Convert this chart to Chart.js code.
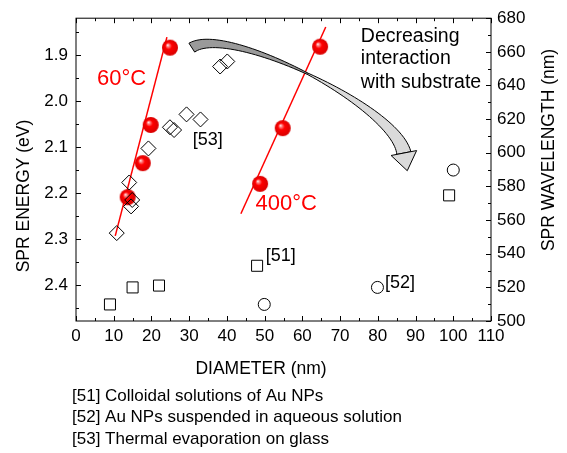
<!DOCTYPE html>
<html>
<head>
<meta charset="utf-8">
<script src="https://cdn.jsdelivr.net/npm/chart.js@4.4.0/dist/chart.umd.min.js"></script>
<style>
  html, body { margin: 0; padding: 0; background: #fff; }
  #wrap { width: 567px; height: 453px; }
</style>
</head>
<body>
<div id="wrap"><canvas id="sprChart" width="567" height="453"></canvas></div>
<script>
// ---- data ----
const sph60X = [13.7, 17.7, 19.8, 24.9];
const sph60Y = [2.209, 2.135, 2.052, 1.884];
const sph400X = [48.8, 54.8, 64.7];
const sph400Y = [2.180, 2.059, 1.882];
const fit60X = [10.4, 24.1];
const fit60Y = [2.293, 1.861];
const fit400X = [43.7, 66.2];
const fit400Y = [2.245, 1.839];
const ref53X = [10.8, 14.1, 14.6, 14.9, 19.2, 24.9, 26.0, 29.3, 33.0, 38.2, 40.1];
const ref53Y = [2.287, 2.177, 2.229, 2.215, 2.103, 2.057, 2.063, 2.029, 2.040, 1.925, 1.914];
const ref51X = [9.0, 15.0, 22.0, 48.0, 98.9];
const ref51Y = [2.442, 2.405, 2.401, 2.358, 2.205];
const ref52X = [49.9, 79.9, 100.0];
const ref52Y = [2.442, 2.405, 2.150];

// ---- axis ticks ----
const xTicks = [0, 10, 20, 30, 40, 50, 60, 70, 80, 90, 100, 110];
const xMinor = [5, 15, 25, 35, 45, 55, 65, 75, 85, 95, 105];
const eTicks = [1.9, 2.0, 2.1, 2.2, 2.3, 2.4];
const eMinor = [1.85, 1.95, 2.05, 2.15, 2.25, 2.35, 2.45];
const wlTicks = [500, 520, 540, 560, 580, 600, 620, 640, 660, 680];
const wlMinor = [510, 530, 550, 570, 590, 610, 630, 650, 670];

const footnotes = [
    '[51] Colloidal solutions of Au NPs',
    '[52] Au NPs suspended in aqueous solution',
    '[53] Thermal evaporation on glass'
];

const FONT = "'Liberation Sans', Arial, sans-serif";
Chart.defaults.font.family = FONT;
Chart.defaults.font.size = 17;
Chart.defaults.color = '#000';

const pts = (xs, ys) => xs.map((x, i) => ({ x: x, y: ys[i] }));

// shaded red ball used as point style
function makeSphere(r) {
    const c = document.createElement('canvas');
    const s = 2 * r + 2;
    c.width = s; c.height = s;
    const g = c.getContext('2d');
    const cx = s / 2, cy = s / 2;
    const grad = g.createRadialGradient(cx - r * 0.3, cy - r * 0.35, 0, cx, cy, r);
    grad.addColorStop(0, '#ffffff');
    grad.addColorStop(0.18, '#ff8080');
    grad.addColorStop(0.42, '#ff0000');
    grad.addColorStop(1, '#d80000');
    g.fillStyle = grad;
    g.beginPath();
    g.arc(cx, cy, r, 0, Math.PI * 2);
    g.fill();
    return c;
}
const sphere = makeSphere(8);

/* ======= ticks, frame, arrow and labels ======= */
const decor = {
    id: 'decor',
    afterDatasetsDraw(chart) {
        const { ctx, scales: { x, y } } = chart;
        // curved "decreasing interaction" arrow, control points in data units
        const P = [[30.7, 1.884], [40.3, 1.833], [84.5, 2.011], [86.9, 2.113]]
            .map(p => ({ x: x.getPixelForValue(p[0]), y: y.getPixelForValue(p[1]) }));
        const B = t => {
            const u = 1 - t;
            return {
                x: u*u*u*P[0].x + 3*u*u*t*P[1].x + 3*u*t*t*P[2].x + t*t*t*P[3].x,
                y: u*u*u*P[0].y + 3*u*u*t*P[1].y + 3*u*t*t*P[2].y + t*t*t*P[3].y
            };
        };
        const D = t => {
            const u = 1 - t;
            return {
                x: 3*u*u*(P[1].x-P[0].x) + 6*u*t*(P[2].x-P[1].x) + 3*t*t*(P[3].x-P[2].x),
                y: 3*u*u*(P[1].y-P[0].y) + 6*u*t*(P[2].y-P[1].y) + 3*t*t*(P[3].y-P[2].y)
            };
        };
        const half = t => t < 0.5 ? 0.7 + 4.6 * (0.5 - t) / 0.5 : 0.7 + 6.5 * (t - 0.5) / 0.5;
        const edge = (t0, t1, sign) => {
            const out = [];
            for (let i = 0; i <= 30; i++) {
                const t = t0 + (t1 - t0) * i / 30;
                const b = B(t), d = D(t);
                const l = Math.hypot(d.x, d.y);
                const w = half(t) * sign;
                out.push({ x: b.x - d.y / l * w, y: b.y + d.x / l * w });
            }
            return out;
        };
        const band = (t0, t1, fill) => {
            const a = edge(t0, t1, 1), b = edge(t0, t1, -1).reverse();
            ctx.beginPath();
            a.concat(b).forEach((p, i) => i ? ctx.lineTo(p.x, p.y) : ctx.moveTo(p.x, p.y));
            ctx.closePath();
            ctx.fillStyle = fill;
            ctx.fill();
            ctx.stroke();
        };
        ctx.save();
        ctx.strokeStyle = '#000';
        ctx.lineWidth = 1;
        band(0, 0.5, '#9a9a9a');
        band(0.5, 1, '#dadada');
        const e = B(1), d = D(1), l = Math.hypot(d.x, d.y);
        const ux = d.x / l, uy = d.y / l;
        ctx.beginPath();
        ctx.moveTo(e.x - uy * 13, e.y + ux * 13);
        ctx.lineTo(e.x + ux * 18, e.y + uy * 18);
        ctx.lineTo(e.x + uy * 13, e.y - ux * 13);
        ctx.closePath();
        ctx.fillStyle = '#dadada';
        ctx.fill();
        ctx.stroke();
        ctx.restore();
    },
    afterDraw(chart) {
        const { ctx, chartArea: a, scales: { x, y, y1 } } = chart;
        ctx.save();
        ctx.strokeStyle = '#000';
        ctx.lineWidth = 1;
        ctx.strokeRect(a.left, a.top, a.right - a.left, a.bottom - a.top);
        ctx.beginPath();
        const xt = (v, len) => {
            const p = Math.round(x.getPixelForValue(v)) + 0.5;
            ctx.moveTo(p, a.bottom); ctx.lineTo(p, a.bottom - len);
            ctx.moveTo(p, a.top); ctx.lineTo(p, a.top + len);
        };
        xTicks.forEach(v => xt(v, 5));
        xMinor.forEach(v => xt(v, 3));
        const lt = (v, len) => {
            const p = Math.round(y.getPixelForValue(v)) + 0.5;
            ctx.moveTo(a.left, p); ctx.lineTo(a.left + len, p);
        };
        eTicks.forEach(v => lt(v, 5));
        eMinor.forEach(v => lt(v, 3));
        const rt = (v, len) => {
            const p = Math.round(y1.getPixelForValue(v)) + 0.5;
            ctx.moveTo(a.right, p); ctx.lineTo(a.right - len, p);
        };
        wlTicks.forEach(v => rt(v, 5));
        wlMinor.forEach(v => rt(v, 3));
        ctx.stroke();

        const txt = (s, px, py, size, color, align) => {
            ctx.font = size + 'px ' + FONT;
            ctx.fillStyle = color;
            ctx.textAlign = align || 'center';
            ctx.textBaseline = 'middle';
            ctx.fillText(s, px, py);
        };
        const at = (d, e) => [x.getPixelForValue(d), y.getPixelForValue(e)];
        txt('60°C', ...at(12.1, 1.953), 22, '#ff0000');
        txt('400°C', ...at(55.7, 2.224), 22, '#ff0000');
        txt('[53]', ...at(34.9, 2.085), 18, '#000');
        txt('[51]', ...at(54.3, 2.337), 18, '#000');
        txt('[52]', ...at(85.9, 2.395), 18, '#000');
        const d0 = x.getPixelForValue(75.5);
        txt('Decreasing', d0, y.getPixelForValue(1.859), 19.5, '#000', 'left');
        txt('interaction', d0, y.getPixelForValue(1.907), 19.5, '#000', 'left');
        txt('with substrate', d0, y.getPixelForValue(1.961), 19.5, '#000', 'left');

        // axis titles
        txt('DIAMETER (nm)', 261, 369, 17.5, '#000');
        ctx.save();
        ctx.translate(24, 196);
        ctx.rotate(-Math.PI / 2);
        txt('SPR ENERGY (eV)', 0, 0, 17.5, '#000');
        ctx.restore();
        ctx.save();
        ctx.translate(549, 150);
        ctx.rotate(-Math.PI / 2);
        txt('SPR WAVELENGTH (nm)', 0, 0, 17.5, '#000');
        ctx.restore();

        footnotes.forEach((s, i) => txt(s, 72, 396 + i * 21.5, 17, '#000', 'left'));
        ctx.restore();
    }
};

new Chart(document.getElementById('sprChart').getContext('2d'), {
    type: 'scatter',
    data: {
        datasets: [
            {
                label: '[53]',
                data: pts(ref53X, ref53Y),
                pointStyle: 'rectRot',
                pointRadius: 7.5,
                borderColor: '#000',
                backgroundColor: 'rgba(0,0,0,0)',
                borderWidth: 1
            },
            {
                label: '60°C',
                data: pts(sph60X, sph60Y),
                pointStyle: sphere,
                pointRadius: 8
            },
            {
                label: '400°C',
                data: pts(sph400X, sph400Y),
                pointStyle: sphere,
                pointRadius: 8
            },
            {
                label: '[51]',
                data: pts(ref51X, ref51Y),
                pointStyle: 'rect',
                pointRadius: 7.8,
                borderColor: '#000',
                backgroundColor: 'rgba(0,0,0,0)',
                borderWidth: 1
            },
            {
                label: '[52]',
                data: pts(ref52X, ref52Y),
                pointStyle: 'circle',
                pointRadius: 6,
                borderColor: '#000',
                backgroundColor: 'rgba(0,0,0,0)',
                borderWidth: 1
            },
            {
                label: 'fit 60°C',
                data: pts(fit60X, fit60Y),
                showLine: true,
                pointRadius: 0,
                borderColor: '#ff0000',
                borderWidth: 1.5
            },
            {
                label: 'fit 400°C',
                data: pts(fit400X, fit400Y),
                showLine: true,
                pointRadius: 0,
                borderColor: '#ff0000',
                borderWidth: 1.5
            }
        ]
    },
    options: {
        responsive: false,
        animation: false,
        events: [],
        layout: { padding: { top: 16, left: 0, right: 0, bottom: 0 } },
        plugins: {
            legend: { display: false },
            tooltip: { enabled: false }
        },
        scales: {
            x: {
                type: 'linear',
                position: 'bottom',
                min: 0, max: 110,
                afterBuildTicks: s => { s.ticks = xTicks.map(v => ({ value: v })); },
                afterFit: s => { s.height = 132; },
                grid: { display: false, drawTicks: false },
                border: { display: false },
                ticks: { padding: 5, maxRotation: 0, autoSkip: false, color: '#000' }
            },
            y: {
                type: 'linear',
                position: 'left',
                reverse: true,
                min: 1.82, max: 2.478,
                afterBuildTicks: s => { s.ticks = eTicks.map(v => ({ value: v })); },
                afterFit: s => { s.width = 76; },
                grid: { display: false, drawTicks: false },
                border: { display: false },
                ticks: { padding: 8, color: '#000', callback: v => v.toFixed(1) }
            },
            y1: {
                type: 'linear',
                position: 'right',
                min: 500, max: 680,
                afterBuildTicks: s => { s.ticks = wlTicks.map(v => ({ value: v })); },
                afterFit: s => { s.width = 76; },
                grid: { display: false, drawTicks: false },
                border: { display: false },
                ticks: { padding: 6, color: '#000' }
            }
        }
    },
    plugins: [decor]
});
</script>
</body>
</html>
